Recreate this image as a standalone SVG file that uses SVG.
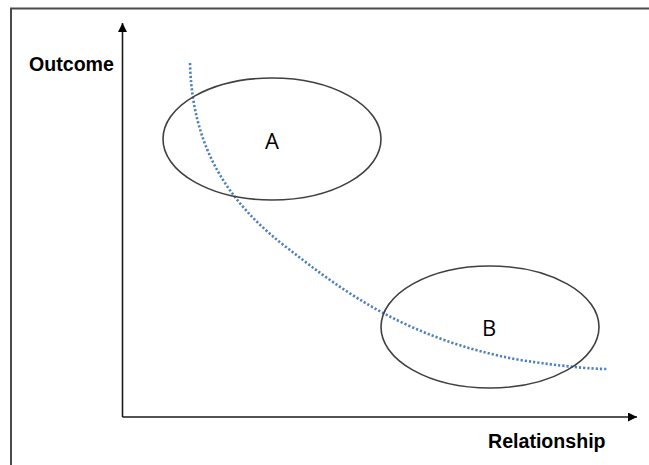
<svg xmlns="http://www.w3.org/2000/svg" width="649" height="465" viewBox="0 0 649 465">
<style>
.axis{stroke:#1a1a1a;stroke-width:1.6;fill:none}
.frame{stroke:#4a4a4a;stroke-width:2;fill:none}
.ell{stroke:#404040;stroke-width:1.6;fill:none}
.lbl{font-family:"Liberation Sans",Arial,sans-serif;font-weight:bold;font-size:19.6px;fill:#000}
.nl{font-family:"Open Sans","Liberation Sans",sans-serif;font-size:22px;fill:#000}
.curve{stroke:#4f81bd;stroke-width:2.6;fill:none;stroke-dasharray:2.2 2}
</style>
<defs>
<marker id="arr" viewBox="0 0 10 10" refX="10" refY="5" markerWidth="10" markerHeight="9" markerUnits="userSpaceOnUse" orient="auto">
<path d="M0,0 L10,5 L0,10 z" fill="#000"/>
</marker>
</defs>
<rect width="649" height="465" fill="#fff"/>
<path class="frame" d="M11,465 V8.5 H649"/>
<g id="connectors">
<path class="axis" d="M122.5,417 V23" marker-end="url(#arr)"/>
<path class="axis" d="M122.5,417 H637" marker-end="url(#arr)"/>
<path class="curve" d="M190,63 C192,145 226,202 290,250 C345,293 410,340 520,360 C560,366 590,369 608,369"/>
</g>
<g id="nodeA">
<ellipse class="ell" cx="272" cy="139" rx="109" ry="61"/>
<text class="nl" x="272" y="149" text-anchor="middle">A</text>
</g>
<g id="nodeB">
<ellipse class="ell" cx="490" cy="327" rx="109" ry="61"/>
<text class="nl" x="489" y="336" text-anchor="middle">B</text>
</g>
<g id="labels">
<text class="lbl" x="29" y="71">Outcome</text>
<text class="lbl" x="488" y="448">Relationship</text>
</g>
</svg>
